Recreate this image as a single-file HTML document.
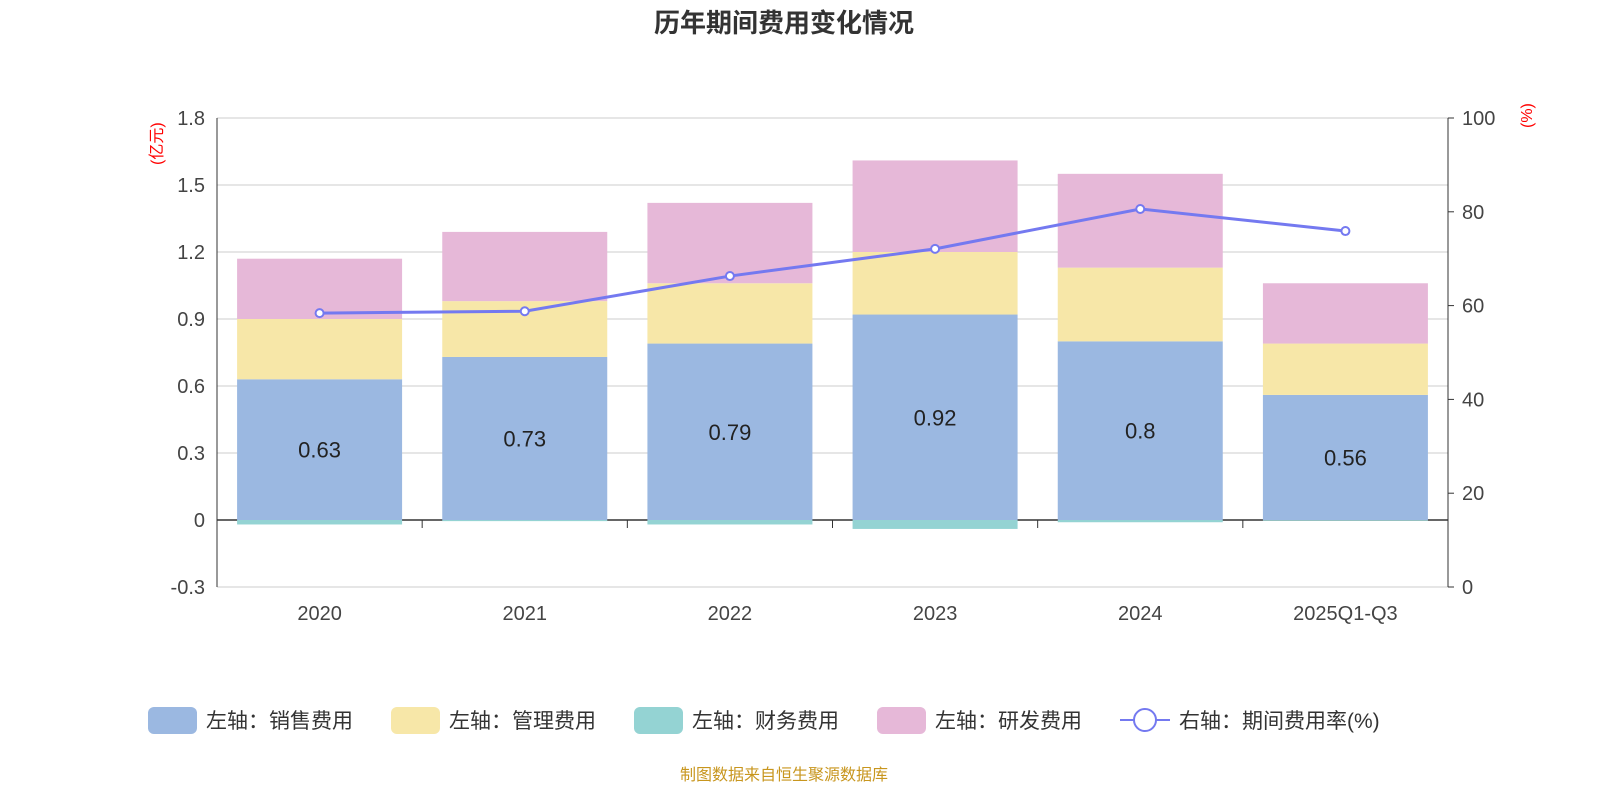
<!DOCTYPE html>
<html><head><meta charset="utf-8"><style>
body{margin:0;background:#fff;width:1600px;height:800px;overflow:hidden;font-family:"Liberation Sans","Noto Sans CJK SC",sans-serif}
</style></head><body>
<svg id="c" width="1600" height="800" xmlns="http://www.w3.org/2000/svg"></svg>
<script>
const categories=["2020","2021","2022","2023","2024","2025Q1-Q3"];
const sales=[0.63,0.73,0.79,0.92,0.8,0.56];
const admin=[0.27,0.25,0.27,0.28,0.33,0.23];
const finance=[-0.02,-0.005,-0.02,-0.04,-0.01,-0.003];
const rnd=[0.27,0.31,0.36,0.41,0.42,0.27];
const rate=[58.4,58.8,66.3,72.1,80.6,75.9];
const leftTicks=[-0.3,0,0.3,0.6,0.9,1.2,1.5,1.8];
const rightTicks=[0,20,40,60,80,100];
const NS="http://www.w3.org/2000/svg",svg=document.getElementById('c');
const X0=217,X1=1448,step=(X1-X0)/categories.length,bw=165;
const yL=v=>520-v*(67/0.3);
const yR=v=>587-v*4.69;
const xc=i=>X0+step*(i+0.5);
function el(t,a,txt){const e=document.createElementNS(NS,t);for(const k in a)e.setAttribute(k,a[k]);if(txt!==undefined)e.textContent=txt;svg.appendChild(e);return e;}
let e=el('text',{x:784,y:32,'text-anchor':'middle','font-size':26,'font-weight':'bold',fill:'#333'},'历年期间费用变化情况');

leftTicks.forEach(t=>{const y=yL(t);
 let g=el('line',{x1:X0,x2:X1,y1:y,y2:y,stroke:t===0?'#333':'#ccc','stroke-width':t===0?1.5:1});
 
 let l=el('text',{x:205,y:y+7,'text-anchor':'end','font-size':20,fill:'#444'},String(t));
 });
rightTicks.forEach(t=>{const y=yR(t);
 el('line',{x1:X1,x2:X1+6,y1:y,y2:y,stroke:'#333'});
 let l=el('text',{x:1462,y:y+7,'font-size':20,fill:'#444'},String(t));
 });
el('line',{x1:X0,x2:X0,y1:118,y2:587,stroke:'#333'});
el('line',{x1:X1,x2:X1,y1:118,y2:587,stroke:'#333'});
for(let i=1;i<categories.length;i++){el('line',{x1:X0+step*i,x2:X0+step*i,y1:520,y2:528,stroke:'#333'});}
e=el('text',{x:0,y:0,'font-size':16,fill:'red',transform:'translate(162,165) rotate(-90)'},'(亿元)');

e=el('text',{x:0,y:0,'font-size':16,fill:'red',transform:'translate(1532,128) rotate(-90)'},'(%)');

categories.forEach((c,i)=>{
 const x=xc(i)-bw/2;
 let b=el('rect',{x:x,y:yL(sales[i]),width:bw,height:yL(0)-yL(sales[i]),fill:'#9bb8e1'});
 
 const t1=sales[i]+admin[i];
 b=el('rect',{x:x,y:yL(t1),width:bw,height:yL(sales[i])-yL(t1),fill:'#f7e7a8'});
 
 const t2=t1+rnd[i];
 b=el('rect',{x:x,y:yL(t2),width:bw,height:yL(t1)-yL(t2),fill:'#e6b8d8'});
 
 b=el('rect',{x:x,y:yL(0),width:bw,height:yL(finance[i])-yL(0),fill:'#94d3d3'});
 
 let l=el('text',{x:xc(i),y:yL(sales[i]/2)+8,'text-anchor':'middle','font-size':22,fill:'#222'},String(sales[i]));
 
 l=el('text',{x:xc(i),y:620,'text-anchor':'middle','font-size':20,fill:'#444'},c);
 
});
let pl=el('polyline',{points:rate.map((v,i)=>xc(i)+','+yR(v)).join(' '),fill:'none',stroke:'#7479f0','stroke-width':3});

rate.forEach((v,i)=>{let p=el('circle',{cx:xc(i),cy:yR(v),r:4,fill:'#fff',stroke:'#7479f0','stroke-width':2});
 });
const leg=[['左轴：销售费用','#9bb8e1',148],['左轴：管理费用','#f7e7a8',391],['左轴：财务费用','#94d3d3',634],['左轴：研发费用','#e6b8d8',877]];
leg.forEach(([t,c,x])=>{let r=el('rect',{x:x,y:707,width:49,height:27,rx:6,fill:c});
 
 let l=el('text',{x:x+58,y:728,'font-size':21,fill:'#333'},t);
 });
el('line',{x1:1120,x2:1170,y1:720,y2:720,stroke:'#7479f0','stroke-width':2});
e=el('circle',{cx:1145,cy:720,r:11,fill:'#fff',stroke:'#7479f0','stroke-width':2});

e=el('text',{x:1179,y:728,'font-size':21,fill:'#333'},'右轴：期间费用率(%)');

e=el('text',{x:784,y:780,'text-anchor':'middle','font-size':16,fill:'#c8961e'},'制图数据来自恒生聚源数据库');

</script>
</body></html>
